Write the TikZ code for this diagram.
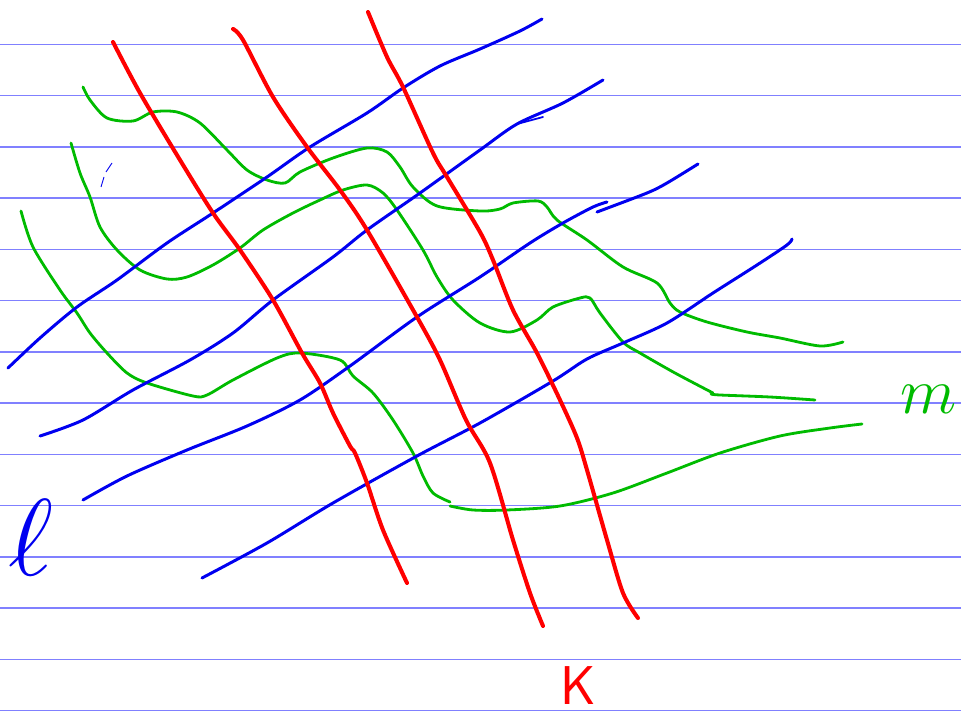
\documentclass[tikz,border=0pt]{standalone}
\usepackage{graphicx}
\usepackage{tikz}
\definecolor{inkred}{HTML}{FF0000}
\definecolor{inkblue}{HTML}{0000F0}
\definecolor{inkgreen}{HTML}{00BB00}
\definecolor{ruleblue}{HTML}{8080FF}

\begin{document}
\begin{tikzpicture}[
    x=0.02cm, y=-0.02cm,
    ruled/.style={ruleblue, line width=0.8pt},
    redstroke/.style={inkred, line width=2.3pt, line cap=round, line join=round},
    bluestroke/.style={inkblue, line width=1.7pt, line cap=round, line join=round},
    greenstroke/.style={inkgreen, line width=1.6pt, line cap=round, line join=round},
    hand/.style={inner sep=0pt, font=\Huge}
]
\useasboundingbox[fill=white] (0,0) rectangle (961,713);
\foreach \k in {0,...,13}
    \draw[ruled] (0,44.3+51.25*\k) -- (961,44.3+51.25*\k);

\draw[greenstroke] plot[smooth, tension=0.5] coordinates {(83,87) (90,100) (107,118) (133,121) (153,112) (177,112) (200,123) (227,150) (247,170) (267,180) (285,183) (300,172) (333,158) (367,148) (387,152) (400,167) (413,187) (437,206) (480,211) (500,209) (513,203) (538,201) (547,207) (557,220) (587,240) (623,267) (657,283) (670,303) (680,312) (707,322) (747,332) (780,338) (820,346) (843,342)};
\draw[greenstroke] plot[smooth, tension=0.5] coordinates {(71,143) (80,173) (90,197) (100,227) (117,250) (140,270) (167,279) (187,277) (213,265) (240,248) (263,230) (293,213) (320,200) (343,190) (367,185) (383,193) (397,210) (423,250) (437,277) (453,300) (480,323) (510,332) (537,320) (553,307) (580,298) (590,298) (600,313) (623,342) (640,353) (675,373) (713,393)};
\draw[greenstroke] plot[smooth, tension=0.5] coordinates {(711,394) (720,395) (770,397) (815,400)};
\draw[greenstroke] plot[smooth, tension=0.5] coordinates {(21,211) (33,247) (60,290) (77,313) (90,333) (107,353) (127,373) (147,383) (193,396) (207,395) (233,380) (277,358) (300,353) (340,360) (353,376) (373,393) (393,420) (413,453) (423,476) (433,493) (450,502)};
\draw[greenstroke] plot[smooth, tension=0.5] coordinates {(450,506) (473,510) (507,510) (560,506) (613,493) (667,473) (720,453) (780,436) (830,428) (862,424)};

\draw[bluestroke] plot[smooth, tension=0.5] coordinates {(8,368) (40,338) (77,307) (117,280) (167,243) (213,213) (267,177) (310,147) (367,113) (403,88) (440,66) (480,49) (520,31) (542,19)};
\draw[bluestroke] plot[smooth, tension=0.5] coordinates {(40,436) (83,420) (133,390) (190,360) (233,333) (273,300) (333,257) (367,230) (420,193) (480,150) (517,124) (563,103) (603,80)};
\draw[bluestroke, line width=1pt] (517,124) -- (543,117);
\draw[bluestroke] plot[smooth, tension=0.5] coordinates {(83,500) (127,476) (187,450) (247,426) (300,400) (350,366) (417,317) (480,277) (530,243) (563,223) (593,207) (607,202)};
\draw[bluestroke] plot[smooth, tension=0.5] coordinates {(597,212) (647,193) (667,183) (698,164)};
\draw[bluestroke] plot[smooth, tension=0.5] coordinates {(202,578) (267,543) (333,503) (417,456) (480,423) (553,381) (587,359) (623,343) (667,323) (713,293) (757,265) (787,245) (792,239)};
\draw[inkblue, line width=0.5pt] (101,187) -- (104,177) (106,172) -- (112,163);

\draw[redstroke] plot[smooth, tension=0.5] coordinates {(113,42) (140,93) (180,160) (213,213) (240,250) (273,300) (302,353) (320,383) (333,413) (350,446) (355,453) (367,483) (383,530) (407,583)};
\draw[redstroke] plot[smooth, tension=0.5] coordinates {(233,29) (243,40) (273,97) (307,147) (340,190) (367,230) (417,317) (440,360) (466,420) (490,463) (513,540) (530,593) (543,626)};
\draw[redstroke] plot[smooth, tension=0.5] coordinates {(368,12) (387,57) (403,87) (433,153) (447,177) (480,232) (493,260) (513,310) (537,353) (560,400) (577,438) (587,470) (607,540) (623,593) (638,618)};

\node[hand, inkblue] (ell) at (31,538) {\scalebox{2.5}{$\ell$}};
\node[hand, inkgreen] (emm) at (929,399) {\scalebox{1.5}{$m$}};
\node[hand, inkred] (kay) at (578,686) {\scalebox{1.25}{\sffamily K}};
\end{tikzpicture}
\end{document}
